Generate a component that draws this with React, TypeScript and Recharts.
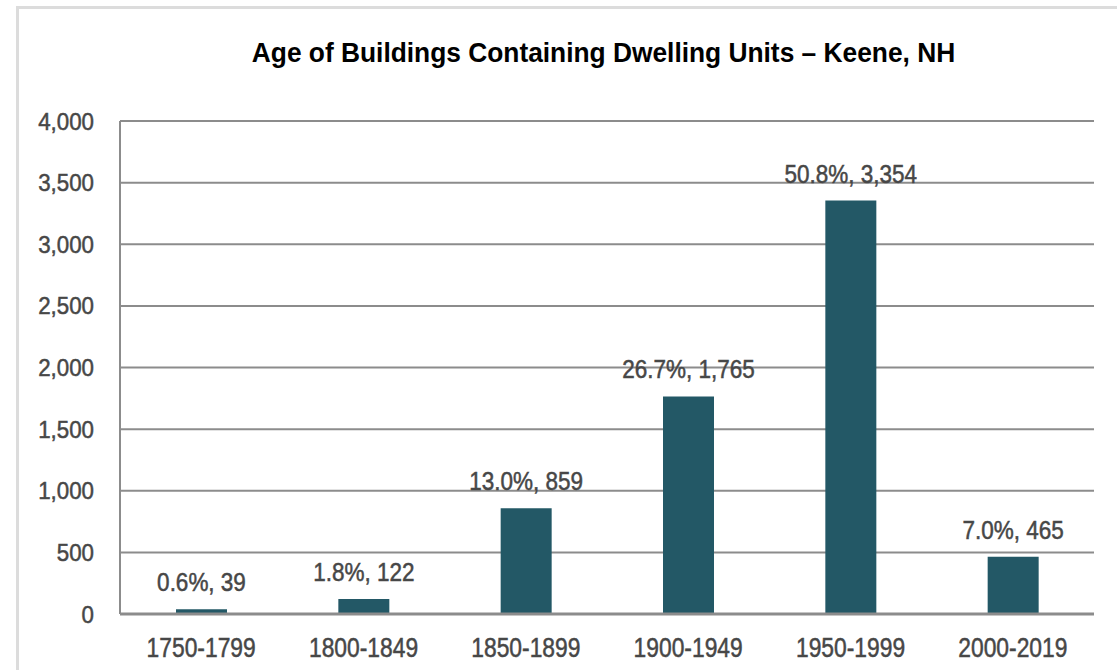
import React from 'react';
import { BarChart, Bar, XAxis, YAxis, CartesianGrid, LabelList } from 'recharts';

const categories = ['1750-1799', '1800-1849', '1850-1899', '1900-1949', '1950-1999', '2000-2019'];
const counts = [39, 122, 859, 1765, 3354, 465];
const percents = ['0.6', '1.8', '13.0', '26.7', '50.8', '7.0'];
const yTicks = [0, 500, 1000, 1500, 2000, 2500, 3000, 3500, 4000];
const title = 'Age of Buildings Containing Dwelling Units \u2013 Keene, NH';

const data = categories.map((c, i) => ({ name: c, value: counts[i], pct: percents[i] }));

const FONT = "'Liberation Sans', Arial, sans-serif";
const TEXT = '#474747';
const GRID = '#8c8c8c';

const fmt = (n: number) => n.toLocaleString('en-US');

const XTick = (props: any) => {
  const { x, y, payload } = props;
  return (
    <text
      transform={`translate(${x},${y}) scale(0.83,1)`}
      textAnchor="middle"
      dy="0.71em"
      fill={TEXT}
      stroke={TEXT}
      strokeWidth={0.5}
      fontSize={27.5}
      fontFamily={FONT}
    >
      {payload.value}
    </text>
  );
};

const YTick = (props: any) => {
  const { x, y, payload } = props;
  return (
    <text
      transform={`translate(${x},${y}) scale(0.93,1)`}
      textAnchor="end"
      dy="0.355em"
      fill={TEXT}
      stroke={TEXT}
      strokeWidth={0.5}
      fontSize={24}
      fontFamily={FONT}
    >
      {fmt(payload.value)}
    </text>
  );
};

const ValueLabel = (props: any) => {
  const { x, y, width, index } = props;
  const cx = Number(x) + Number(width) / 2;
  const cy = Number(y) - 18;
  return (
    <text
      transform={`translate(${cx},${cy}) scale(0.9,1)`}
      textAnchor="middle"
      fill={TEXT}
      stroke={TEXT}
      strokeWidth={0.5}
      fontSize={25}
      fontFamily={FONT}
    >
      {`${percents[index]}%, ${fmt(counts[index])}`}
    </text>
  );
};

export default function App() {
  return (
    <div style={{ position: 'absolute', left: 0, top: 0, width: 1117, height: 670, overflow: 'hidden', background: '#fff' }}>
      <div
        style={{
          position: 'absolute',
          left: 16,
          top: 6,
          width: 1130,
          height: 690,
          border: '3px solid #dcdcdc',
          boxSizing: 'border-box',
        }}
      />
      <div
        style={{
          position: 'absolute',
          left: 0,
          top: 39,
          width: 1207,
          textAlign: 'center',
          fontFamily: FONT,
          fontWeight: 'bold',
          fontSize: 28,
          lineHeight: '28px',
          color: '#000',
          transform: 'scaleX(0.94)',
          transformOrigin: '603.5px 0',
        }}
      >
        {title}
      </div>
      <div style={{ position: 'absolute', left: 0, top: 0 }}>
        <BarChart
          width={1117}
          height={670}
          data={data}
          margin={{ top: 121, right: 23, bottom: 0, left: 0 }}
          barSize={51}
        >
          <CartesianGrid vertical={false} stroke={GRID} strokeWidth={2} />
          <XAxis
            dataKey="name"
            axisLine={{ stroke: GRID, strokeWidth: 3 }}
            tickLine={false}
            tickSize={0}
            tickMargin={23}
            height={56}
            interval={0}
            tick={<XTick />}
          />
          <YAxis
            domain={[0, 4000]}
            ticks={yTicks}
            interval={0}
            width={120}
            axisLine={{ stroke: GRID, strokeWidth: 2 }}
            tickLine={false}
            tickSize={0}
            tickMargin={26}
            tick={<YTick />}
          />
          <Bar dataKey="value" fill="#235866" isAnimationActive={false}>
            <LabelList dataKey="value" content={<ValueLabel />} />
          </Bar>
        </BarChart>
      </div>
    </div>
  );
}
